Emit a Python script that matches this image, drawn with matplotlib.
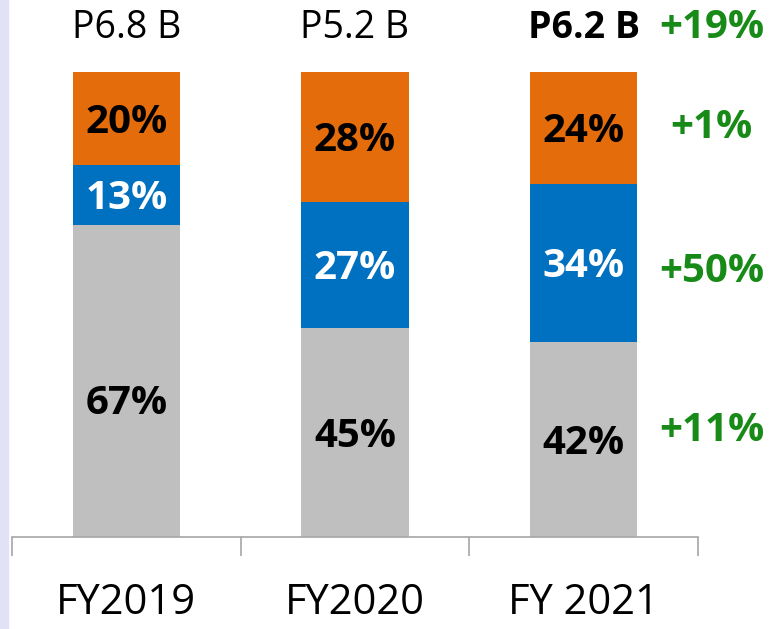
import matplotlib.pyplot as plt
from matplotlib.patches import Rectangle
import numpy as np

plt.rcParams["font.family"] = ["Open Sans", "DejaVu Sans"]

years = ["FY2019", "FY2020", "FY 2021"]
totals = ["P6.8 B", "P5.2 B", "P6.2 B"]
gray_share = [67, 45, 42]
blue_share = [13, 27, 34]
orange_share = [20, 28, 24]
growth = ["+19%", "+1%", "+50%", "+11%"]

ORANGE = "#E46C0A"
BLUE = "#0070C0"
GRAY = "#BFBFBF"
GREEN = "#178A17"

fig = plt.figure(figsize=(7.75, 6.29), dpi=100)
fig.patches.append(Rectangle((0, 0), 8 / 775, 1, transform=fig.transFigure,
                             color="#E2E2F7", zorder=0))
ax = fig.add_axes([12 / 775, 92 / 629, 686 / 775, 465 / 629])

x = np.arange(len(years))
g = np.array(gray_share)
b = np.array(blue_share)
o = np.array(orange_share)
w = 0.47

ax.bar(x, g, w, color=GRAY)
ax.bar(x, b, w, bottom=g, color=BLUE)
ax.bar(x, o, w, bottom=g + b, color=ORANGE)

# labels sit slightly below segment centres; the first gray one more so
dy = -0.8
gray_y = g / 2 + dy
gray_y[0] -= 4
for i in range(len(years)):
    ax.text(x[i], gray_y[i], f"{g[i]}%", ha="center", va="center",
            fontsize=29, fontweight="bold", color="black")
    ax.text(x[i], g[i] + b[i] / 2 + dy, f"{b[i]}%", ha="center", va="center",
            fontsize=29, fontweight="bold", color="white")
    ax.text(x[i], g[i] + b[i] + o[i] / 2 + dy, f"{o[i]}%", ha="center",
            va="center", fontsize=29, fontweight="bold", color="black")
    ax.text(x[i], 109.5, totals[i], ha="center", va="center", fontsize=27,
            fontweight="bold" if i == 2 else "normal", clip_on=False)
    ax.text(x[i], -14.3, years[i], ha="center", va="center", fontsize=30,
            clip_on=False)

# growth labels to the right of FY 2021
gx = x[-1] + 0.56
gy = [109.5, g[-1] + b[-1] + o[-1] / 2, g[-1] + b[-1] / 2 - 2, g[-1] / 2 + 2]
for lbl, yy in zip(growth, gy):
    ax.text(gx, yy, lbl, ha="center", va="center", fontsize=29,
            fontweight="bold", color=GREEN, clip_on=False)

ax.set_xlim(-0.5, len(years) - 0.5)
ax.set_ylim(0, 100)
for s in ["top", "right", "left"]:
    ax.spines[s].set_visible(False)
ax.spines["bottom"].set_color("#A6A6A6")
ax.spines["bottom"].set_linewidth(1.2)
ax.set_yticks([])
ax.set_xticks(np.arange(len(years) + 1) - 0.5)
ax.set_xticklabels([])
ax.tick_params(axis="x", length=14, width=1.2, color="#A6A6A6", direction="out")

fig.savefig("out.png", dpi=100)
